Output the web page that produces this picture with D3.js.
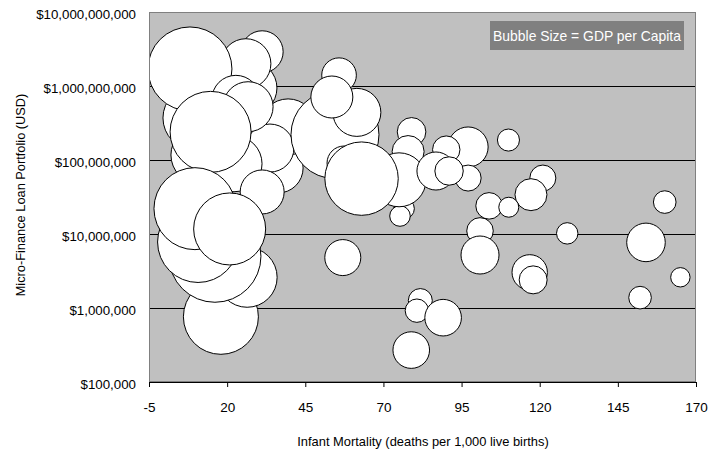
<!DOCTYPE html>
<html>
<head>
<meta charset="utf-8">
<script src="https://cdn.jsdelivr.net/npm/d3@7"></script>
<style>
  html, body { margin: 0; padding: 0; background: #fff; }
  svg { display: block; font-family: "Liberation Sans", Arial, sans-serif; }
</style>
</head>
<body>
<svg id="chart" width="726" height="459"></svg>
<script>
// Infant mortality (deaths per 1,000 live births), listed in drawing order
const mortality = [
  11.3, 9.7, 36.3, 39.5, 33.7, 22.2, 27.3, 31.2, 26.0, 8.1,
  22.8, 26.7, 14.7, 31.2, 18.0, 26.4, 16.1, 10.7, 9.7, 20.8,
  54.5, 61.5, 55.8, 53.5, 57.4, 79.0, 77.9, 76.6, 75.3, 75.0,
  63.0, 57.0,
  97.1, 90.1, 86.8, 97.1, 91.0, 110.0, 121.0, 117.2, 103.8, 110.1,
  100.9, 100.9, 128.8, 154.0, 160.0, 165.0, 152.1, 116.8, 117.9,
  81.8, 80.7, 89.1, 78.9
];
// Micro-finance loan portfolio (USD)
const portfolio = [
  1.17e8, 3.7e8, 7.8e7, 2.8e8, 1.45e8, 8.9e7, 9.4e8, 2.9e9, 2.0e9, 1.7e9,
  6.6e8, 5.25e8, 2.4e8, 3.7e7, 7.6e5, 2.6e6, 5.0e6, 7.8e6, 2.2e7, 1.17e7,
  2.2e8, 4.4e8, 1.4e9, 7.1e8, 9.1e7, 2.4e8, 1.3e8, 2.2e7, 1.75e7, 5.4e7,
  5.6e7, 4.8e6,
  1.5e8, 1.38e8, 7.1e7, 5.7e7, 7.1e7, 1.86e8, 5.7e7, 3.4e7, 2.4e7, 2.3e7,
  1.1e7, 5.2e6, 1.02e7, 7.7e6, 2.7e7, 2.6e6, 1.38e6, 3.03e6, 2.4e6,
  1.26e6, 9.2e5, 7.4e5, 2.7e5
];
// GDP per capita (USD), shown as bubble area
const gdpPerCapita = [
  4770, 5800, 3545, 4450, 3270, 4450, 4130, 2500, 3545, 10000,
  3270, 3545, 9300, 2745, 7975, 5100, 12000, 9300, 9530, 7350,
  10980, 3270, 1700, 2500, 1640, 1160, 1450, 600, 600, 4130,
  7640, 1840,
  2270, 1065, 2050, 960, 1145, 690, 960, 1450, 1000, 567,
  1000, 2050, 650, 2110, 725, 533, 725, 1775, 1110,
  817, 776, 1900, 1900
];

const xTicks = [-5, 20, 45, 70, 95, 120, 145, 170];
const yTicks = [1e5, 1e6, 1e7, 1e8, 1e9, 1e10];

const xTitle = "Infant Mortality (deaths per 1,000 live births)";
const yTitle = "Micro-Finance Loan Portfolio (USD)";
const sizeNote = "Bubble Size = GDP per Capita";

const points = mortality.map((m, i) => ({ m, p: portfolio[i], g: gdpPerCapita[i] }));

const plot = { left: 149, right: 696, top: 12, bottom: 382 };
const x = d3.scaleLinear().domain([-5, 170]).range([plot.left, plot.right]);
const y = d3.scaleLog().domain([1e5, 1e10]).range([plot.bottom, plot.top]);
const r = d3.scaleSqrt().domain([0, d3.max(gdpPerCapita)]).range([0, 46]);

const svg = d3.select("#chart");
const fontFamily = "'Liberation Sans', Arial, sans-serif";

// plot background
svg.append("rect")
  .attr("x", plot.left).attr("y", plot.top)
  .attr("width", plot.right - plot.left).attr("height", plot.bottom - plot.top)
  .attr("fill", "#c0c0c0");

// horizontal gridlines
svg.append("g")
  .selectAll("line")
  .data(yTicks.filter(t => t > 1e5 && t < 1e10))
  .join("line")
  .attr("x1", plot.left).attr("x2", plot.right)
  .attr("y1", d => Math.round(y(d)) + 0.5).attr("y2", d => Math.round(y(d)) + 0.5)
  .attr("stroke", "#000").attr("stroke-width", 1);

// bubbles clipped to plot area
svg.append("clipPath").attr("id", "plotClip")
  .append("rect")
  .attr("x", plot.left).attr("y", plot.top)
  .attr("width", plot.right - plot.left).attr("height", plot.bottom - plot.top);

svg.append("g").attr("clip-path", "url(#plotClip)")
  .selectAll("circle")
  .data(points)
  .join("circle")
  .attr("cx", d => x(d.m))
  .attr("cy", d => y(d.p))
  .attr("r", d => r(d.g))
  .attr("fill", "#fff")
  .attr("stroke", "#000")
  .attr("stroke-width", 1);

// plot border
svg.append("rect")
  .attr("x", plot.left + 0.5).attr("y", plot.top + 0.5)
  .attr("width", plot.right - plot.left - 1).attr("height", plot.bottom - plot.top - 1)
  .attr("fill", "none").attr("stroke", "#808080").attr("stroke-width", 1);

// x axis
const xAxis = svg.append("g")
  .attr("transform", `translate(0,${plot.bottom})`)
  .call(d3.axisBottom(x).tickValues(xTicks).tickSize(5).tickPadding(15).tickFormat(d => String(d)));
xAxis.select(".domain").attr("stroke", "#000").attr("d", `M${plot.left},0.5H${plot.right}`);
xAxis.selectAll(".tick line").attr("stroke", "#000");
xAxis.selectAll("text").attr("font-size", 13.5).attr("fill", "#000")
  .attr("font-family", fontFamily);

// y axis labels
const yAxis = svg.append("g")
  .attr("transform", `translate(${plot.left},2)`)
  .call(d3.axisLeft(y).tickValues(yTicks).tickSize(0).tickPadding(13)
    .tickFormat(d => "$" + d3.format(",")(d)));
yAxis.select(".domain").remove();
yAxis.selectAll("text").attr("font-size", 13.3).attr("fill", "#000")
  .attr("font-family", fontFamily);

// axis titles
svg.append("text")
  .attr("x", 423).attr("y", 446)
  .attr("text-anchor", "middle").attr("font-size", 12.9)
  .text(xTitle);

svg.append("text")
  .attr("transform", "translate(24.5,195) rotate(-90)")
  .attr("text-anchor", "middle").attr("font-size", 12.8)
  .text(yTitle);

// bubble size note
const note = svg.append("g");
note.append("rect")
  .attr("x", 490).attr("y", 21).attr("width", 194).attr("height", 29)
  .attr("fill", "#808080");
note.append("text")
  .attr("x", 587).attr("y", 40.5)
  .attr("text-anchor", "middle").attr("font-size", 13.9).attr("fill", "#fff")
  .text(sizeNote);
</script>
</body>
</html>
